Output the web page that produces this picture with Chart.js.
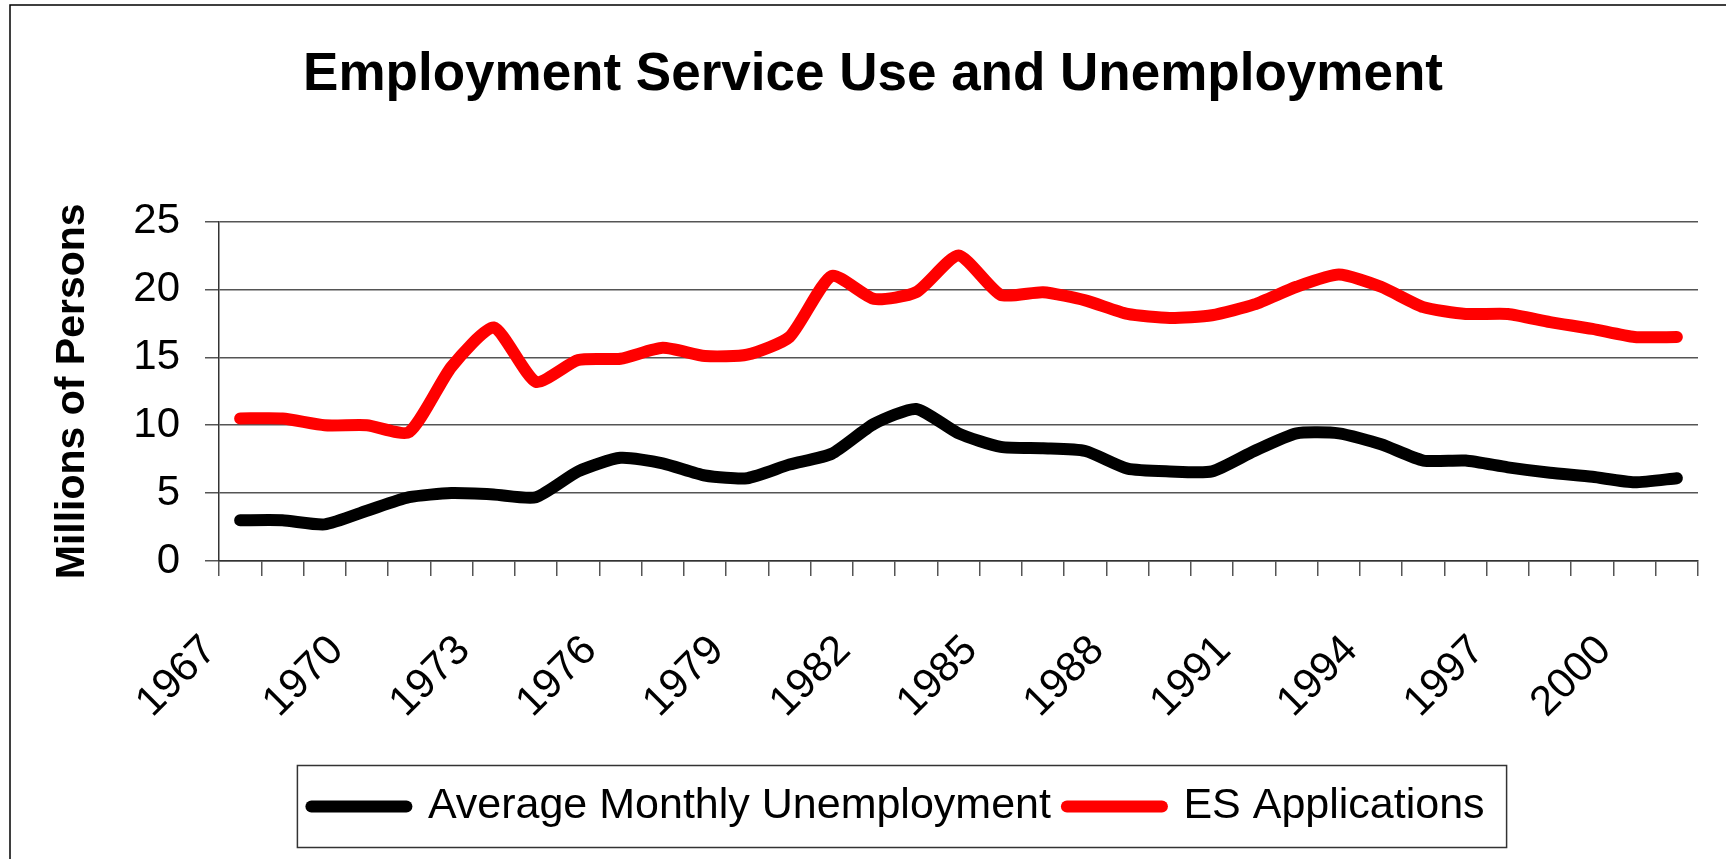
<!DOCTYPE html>
<html>
<head>
<meta charset="utf-8">
<script src="https://cdn.jsdelivr.net/npm/chart.js@4.4.1/dist/chart.umd.min.js"></script>
<style>
html, body { margin: 0; padding: 0; background: #ffffff; }
#wrap { width: 1726px; height: 859px; }
</style>
</head>
<body>
<div id="wrap"><canvas id="chart" width="1726" height="859"></canvas></div>
<script>
const chart_canvas = document.getElementById('chart');

const years = ['1967', '1968', '1969', '1970', '1971', '1972', '1973', '1974', '1975', '1976',
    '1977', '1978', '1979', '1980', '1981', '1982', '1983', '1984', '1985', '1986',
    '1987', '1988', '1989', '1990', '1991', '1992', '1993', '1994', '1995', '1996',
    '1997', '1998', '1999', '2000', '2001'];
const tick_years = ['1967', '1970', '1973', '1976', '1979', '1982', '1985', '1988', '1991', '1994', '1997', '2000'];
const y_ticks = [0, 5, 10, 15, 20, 25];

// millions of persons
const unemployment = [3.0, 3.0, 2.7, 3.7, 4.7, 5.0, 4.9, 4.7, 6.6, 7.6,
    7.2, 6.3, 6.1, 7.1, 7.9, 10.1, 11.2, 9.4, 8.4, 8.3,
    8.1, 6.8, 6.6, 6.6, 8.1, 9.4, 9.4, 8.6, 7.4, 7.4,
    6.9, 6.5, 6.2, 5.8, 6.1];
const es_applications = [10.5, 10.5, 10.0, 10.0, 9.5, 14.3, 17.2, 13.2, 14.8, 14.9,
    15.7, 15.1, 15.2, 16.5, 21.0, 19.3, 19.8, 22.5, 19.6, 19.8,
    19.2, 18.2, 17.9, 18.1, 18.9, 20.2, 21.1, 20.2, 18.7, 18.2,
    18.2, 17.6, 17.1, 16.5, 16.5];

const FONT = "'Liberation Sans', Arial, sans-serif";
Chart.defaults.font.family = FONT;
Chart.defaults.color = '#000000';

// white page, outer chart frame and the box round the legend
const chartFrame = {
    id: 'chartFrame',
    afterLayout: (chart) => {
        // the legend sits a little right of centre in the original
        chart.legend.left += 25;
        chart.legend.right += 25;
    },
    beforeDraw: (chart) => {
        const {ctx} = chart;
        ctx.save();
        ctx.fillStyle = '#ffffff';
        ctx.fillRect(0, 0, chart.width, chart.height);
        ctx.strokeStyle = '#000000';
        ctx.lineWidth = 1.5;
        ctx.beginPath();
        ctx.moveTo(10, chart.height + 5);
        ctx.lineTo(10, 5);
        ctx.lineTo(chart.width + 5, 5);
        ctx.stroke();
        ctx.restore();
    },
    afterDraw: (chart) => {
        const boxes = chart.legend && chart.legend.legendHitBoxes;
        if (!boxes || !boxes.length) return;
        const {ctx} = chart;
        const first = boxes[0];
        const last = boxes[boxes.length - 1];
        const left = first.left - 14;
        const right = last.left + last.width + 22;
        const mid = first.top + first.height / 2;
        ctx.save();
        ctx.strokeStyle = '#333333';
        ctx.lineWidth = 1.5;
        ctx.strokeRect(left, mid - 41, right - left, 82);
        ctx.restore();
    }
};

function lineDataset(label, data, color){
    return {
        label: label,
        data: data,
        borderColor: color,
        backgroundColor: color,
        borderWidth: 12,
        borderCapStyle: 'round',
        borderJoinStyle: 'round',
        pointRadius: 0,
        pointHoverRadius: 0,
        tension: 0.2,
        fill: false
    };
}

let chart = new Chart(chart_canvas, {
    type: 'line',
    data: {
        labels: years,
        datasets: [
            lineDataset('Average Monthly Unemployment', unemployment, '#000000'),
            lineDataset('ES Applications', es_applications, '#ff0000')
        ]
    },
    options: {
        responsive: false,
        animation: false,
        layout: {
            padding: {top: 10, left: 48, right: 28, bottom: 21}
        },
        scales: {
            x: {
                offset: true,
                grid: {
                    offset: true,
                    drawOnChartArea: false,
                    drawTicks: true,
                    tickLength: 15,
                    color: '#555555',
                    lineWidth: 1.5
                },
                border: {display: true, color: '#333333', width: 1.5},
                ticks: {
                    autoSkip: false,
                    minRotation: 45,
                    maxRotation: 45,
                    padding: 50,
                    labelOffset: -30,
                    color: '#000000',
                    font: {size: 42},
                    callback: function(value){
                        let label = this.getLabelForValue(value);
                        return tick_years.includes(label) ? label : '';
                    }
                },
                afterFit: (scale) => {
                    scale.height = 208;
                    scale.paddingLeft = 0;
                    scale.paddingRight = 0;
                }
            },
            y: {
                min: y_ticks[0],
                max: y_ticks[y_ticks.length - 1],
                grid: {
                    color: '#555555',
                    lineWidth: 1.5,
                    drawTicks: true,
                    tickLength: 14
                },
                border: {display: true, color: '#333333', width: 1.5},
                ticks: {
                    stepSize: 5,
                    padding: 25,
                    color: '#000000',
                    font: {size: 42}
                },
                title: {
                    display: true,
                    text: 'Millions of Persons',
                    color: '#000000',
                    font: {size: 41, weight: 'bold'},
                    padding: {top: 0, bottom: 0}
                },
                afterFit: (scale) => { scale.width = 171; }
            }
        },
        plugins: {
            title: {
                display: true,
                text: 'Employment Service Use and Unemployment',
                color: '#000000',
                font: {size: 53, weight: 'bold'},
                padding: {top: 34, bottom: 114}
            },
            legend: {
                display: true,
                position: 'bottom',
                labels: {
                    usePointStyle: true,
                    pointStyle: 'line',
                    pointStyleWidth: 95,
                    boxHeight: 12,
                    padding: 16,
                    color: '#000000',
                    font: {size: 43},
                    generateLabels: (chart) => {
                        let items = Chart.defaults.plugins.legend.labels.generateLabels(chart);
                        items.forEach(item => {
                            let ds = chart.data.datasets[item.datasetIndex];
                            item.lineWidth = ds.borderWidth;
                            item.lineCap = 'round';
                            item.strokeStyle = ds.borderColor;
                            item.pointStyle = 'line';
                        });
                        return items;
                    }
                }
            },
            tooltip: {enabled: false}
        }
    },
    plugins: [chartFrame]
});
</script>
</body>
</html>
